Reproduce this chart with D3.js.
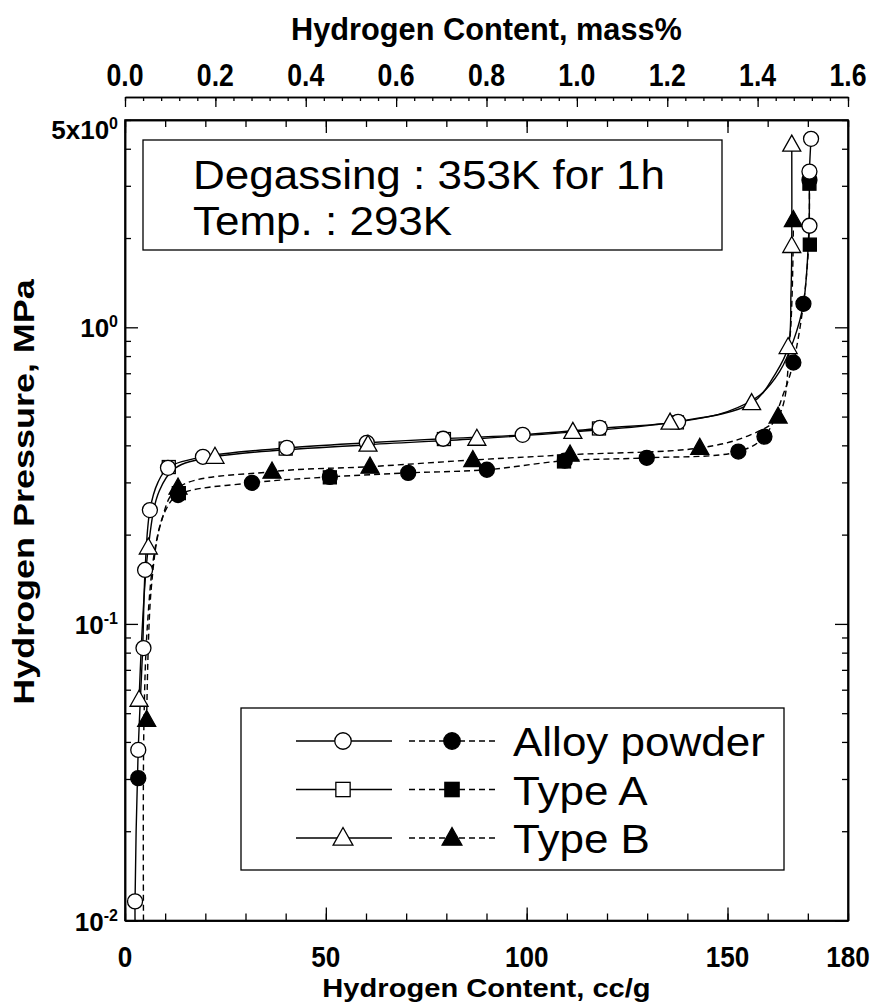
<!DOCTYPE html>
<html>
<head>
<meta charset="utf-8">
<script src="https://cdn.jsdelivr.net/npm/d3@7"></script>
<style>
  html, body { margin: 0; padding: 0; background: #fff; }
  svg { display: block; }
</style>
</head>
<body>
<div id="chart"></div>
<script>
// ---- Data: hydrogen content (cc/g) and pressure (MPa) ----
// Alloy powder, absorption (open circles)
const alloyAbsV = [2.5, 3.3, 4.6, 5.0, 6.2, 10.7, 19.4, 40.3, 60.2, 79.2, 99.0, 118.2, 137.7, 170.4, 170.4, 170.8];
const alloyAbsP = [0.0116, 0.0376, 0.0829, 0.152, 0.242, 0.336, 0.366, 0.392, 0.408, 0.421, 0.434, 0.458, 0.480, 2.20, 3.35, 4.32];
// Alloy powder, desorption (filled circles)
const alloyDesV = [3.3, 13.2, 31.6, 51.0, 70.5, 90.1, 109.5, 129.9, 152.7, 159.2, 166.4, 168.9, 170.4];
const alloyDesP = [0.0302, 0.272, 0.299, 0.313, 0.323, 0.331, 0.355, 0.363, 0.381, 0.428, 0.761, 1.20, 3.14];
// Type A, absorption (open squares)
const typeAAbsV = [10.9, 40.0, 79.4, 118.0, 137.4];
const typeAAbsP = [0.338, 0.390, 0.420, 0.456, 0.478];
// Type A, desorption (filled squares)
const typeADesV = [13.4, 51.0, 109.3, 170.5, 170.4];
const typeADesP = [0.276, 0.312, 0.353, 1.90, 3.05];
// Type B, absorption (open triangles)
const typeBAbsV = [3.5, 5.8, 22.4, 60.5, 87.6, 111.5, 135.7, 156.0, 165.1, 166.0, 166.0];
const typeBAbsP = [0.0555, 0.181, 0.366, 0.402, 0.421, 0.444, 0.477, 0.555, 0.858, 1.88, 4.13];
// Type B, desorption (filled triangles)
const typeBDesV = [5.4, 13.2, 36.6, 61.0, 86.6, 110.8, 143.1, 162.6, 166.4];
const typeBDesP = [0.0475, 0.288, 0.326, 0.339, 0.357, 0.372, 0.392, 0.500, 2.30];

// Smoothed isotherm curves (cc/g, MPa)
const alloyAbsCurve = [[2.5, 0.01], [2.5, 0.0116], [3.3, 0.0376], [4.4, 0.0829], [5.0, 0.152], [6.2, 0.242], [8.2, 0.30], [10.7, 0.336],
  [19.4, 0.366], [40.3, 0.392], [60.2, 0.408], [79.2, 0.421], [99.0, 0.434], [118.2, 0.456], [137.7, 0.480], [150, 0.52],
  [158, 0.59], [163, 0.71], [166.4, 0.90], [168.9, 1.20], [170.3, 2.20], [170.4, 3.35], [170.8, 4.32]];
const typeBAbsCurve = [[3.5, 0.0555], [5.8, 0.181], [8.5, 0.28], [12.5, 0.335], [22.4, 0.366], [60.5, 0.402], [87.6, 0.421],
  [111.5, 0.444], [135.7, 0.477], [156.0, 0.555], [162.0, 0.70], [165.1, 0.858], [165.8, 1.30], [166.0, 1.88], [166.0, 4.13]];
const alloyDesCurve = [[4.6, 0.01], [4.7, 0.045], [5.6, 0.10], [7.5, 0.18], [10.0, 0.24], [13.2, 0.272], [31.6, 0.299],
  [51.0, 0.313], [70.5, 0.323], [90.1, 0.331], [109.5, 0.355], [129.9, 0.363], [152.7, 0.381], [159.2, 0.428],
  [164.0, 0.60], [166.4, 0.761], [168.9, 1.20], [170.2, 1.90], [170.4, 3.14]];
const typeBDesCurve = [[5.4, 0.0475], [6.5, 0.13], [9.0, 0.22], [13.2, 0.288], [36.6, 0.326], [61.0, 0.339], [86.6, 0.357],
  [110.8, 0.372], [143.1, 0.392], [155.0, 0.43], [162.6, 0.500], [165.5, 0.90], [166.4, 2.30]];

// Axis tick labels
const xTickLabels = [0, 50, 100, 150, 180];
const massTickLabels = [0.0, 0.2, 0.4, 0.6, 0.8, 1.0, 1.2, 1.4, 1.6];
const yTickLabels = [
  { value: 0.01, base: "10", exp: "-2" },
  { value: 0.1, base: "10", exp: "-1" },
  { value: 1, base: "10", exp: "0" },
  { value: 5, base: "5x10", exp: "0" }
];
const legendNames = ["Alloy powder", "Type A", "Type B"];
const legendShapes = ["circle", "square", "triangle"];
const noteLines = ["Degassing : 353K for 1h", "Temp. : 293K"];

// ---- Layout ----
const W = 875, H = 1005;
const L = 125, R = 848, T = 120, B = 920.5;
const MASS_Y = 97;

const x = d3.scaleLinear().domain([0, 180]).range([L, R]);
const xm = d3.scaleLinear().domain([0, 1.6]).range([L, R]);
const y = d3.scaleLog().domain([0.01, 5]).range([B, T]);

const svg = d3.select("#chart").append("svg")
  .attr("width", W).attr("height", H)
  .attr("viewBox", `0 0 ${W} ${H}`);

const sans = "'Liberation Sans', Arial, sans-serif";

function styleAxis(g) {
  g.selectAll("path.domain").attr("stroke", "#000").attr("stroke-width", 1.5);
  g.selectAll(".tick line").attr("stroke", "#000").attr("stroke-width", 1.3);
  g.selectAll(".tick text").remove();
}

// Frame ticks (inward), every 10 cc/g, longer at multiples of 50
const minorX = d3.range(0, 181, 10);
const majorX = [0, 50, 100, 150];
svg.append("g").attr("transform", `translate(0,${B})`)
  .call(d3.axisBottom(x).tickValues(minorX).tickSize(-7).tickSizeOuter(0)).call(styleAxis);
svg.append("g").attr("transform", `translate(0,${B})`)
  .call(d3.axisBottom(x).tickValues(majorX).tickSize(-13).tickSizeOuter(0)).call(styleAxis);
svg.append("g").attr("transform", `translate(0,${T})`)
  .call(d3.axisTop(x).tickValues(minorX).tickSize(-7).tickSizeOuter(0)).call(styleAxis);
svg.append("g").attr("transform", `translate(0,${T})`)
  .call(d3.axisTop(x).tickValues(majorX).tickSize(-13).tickSizeOuter(0)).call(styleAxis);

// Log ticks on left and right
const decades = [0.01, 0.1, 1];
const minorY = [];
decades.forEach(d => { for (let k = 2; k <= 9; k++) { const v = +(d * k).toPrecision(3); if (v <= 5) minorY.push(v); } });
svg.append("g").attr("transform", `translate(${L},0)`)
  .call(d3.axisLeft(y).tickValues(minorY).tickSize(-6).tickSizeOuter(0)).call(styleAxis);
svg.append("g").attr("transform", `translate(${L},0)`)
  .call(d3.axisLeft(y).tickValues(decades).tickSize(-13).tickSizeOuter(0)).call(styleAxis);
svg.append("g").attr("transform", `translate(${R},0)`)
  .call(d3.axisRight(y).tickValues(minorY).tickSize(-6).tickSizeOuter(0)).call(styleAxis);
svg.append("g").attr("transform", `translate(${R},0)`)
  .call(d3.axisRight(y).tickValues(decades).tickSize(-13).tickSizeOuter(0)).call(styleAxis);

// Frame
svg.append("rect").attr("x", L).attr("y", T).attr("width", R - L).attr("height", B - T)
  .attr("fill", "none").attr("stroke", "#000").attr("stroke-width", 1.6);

// Upper mass% axis
const massMinor = d3.range(0, 41).map(i => +(i * 0.04).toFixed(2));
svg.append("g").attr("transform", `translate(0,${MASS_Y})`)
  .call(d3.axisBottom(xm).tickValues(massMinor).tickSize(4).tickSizeOuter(0)).call(styleAxis);
svg.append("g").attr("transform", `translate(0,${MASS_Y})`)
  .call(d3.axisBottom(xm).tickValues(massTickLabels).tickSize(10).tickSizeOuter(0)).call(styleAxis);

// Tick labels (bold, condensed)
function boldText(sel, size) {
  sel.attr("font-family", sans).attr("font-weight", "bold")
    .attr("font-size", size).attr("text-anchor", "middle").attr("fill", "#000");
}
svg.append("g").selectAll("text").data(xTickLabels).join("text")
  .attr("transform", d => `translate(${x(d)},967) scale(0.9,1)`)
  .text(d => d).call(boldText, 29);
svg.append("g").selectAll("text").data(massTickLabels).join("text")
  .attr("transform", d => `translate(${xm(d)},86) scale(0.86,1)`)
  .text(d3.format(".1f")).call(boldText, 31);

// Y tick labels with superscripts
const yLab = svg.append("g").selectAll("text").data(yTickLabels).join("text")
  .attr("x", L - 7).attr("y", d => Math.max(y(d.value) + 10, T + 19))
  .attr("text-anchor", "end").attr("font-family", sans).attr("font-weight", "bold")
  .attr("font-size", 26).attr("fill", "#000");
yLab.append("tspan").text(d => d.base);
yLab.append("tspan").attr("dy", -10).attr("font-size", 16).text(d => d.exp);

// Axis titles
svg.append("text").attr("transform", `translate(${(L + R) / 2},40) scale(0.96,1)`)
  .text("Hydrogen Content, mass%").call(boldText, 32);
svg.append("text").attr("transform", `translate(${(L + R) / 2},997) scale(1.12,1)`)
  .text("Hydrogen Content, cc/g").call(boldText, 26);
svg.append("text").attr("transform", `translate(34,492) rotate(-90) scale(1.24,1)`)
  .text("Hydrogen Pressure, MPa").call(boldText, 29);

// ---- Curves ----
const line = d3.line()
  .x(d => x(d[0])).y(d => y(d[1]))
  .curve(d3.curveCatmullRom.alpha(0.5));
const plot = svg.append("g");
const curves = [
  { data: alloyDesCurve, dash: "6,4" },
  { data: typeBDesCurve, dash: "6,4" },
  { data: alloyAbsCurve, dash: null },
  { data: typeBAbsCurve, dash: null }
];
plot.selectAll("path.curve").data(curves).join("path")
  .attr("class", "curve")
  .attr("d", d => line(d.data))
  .attr("fill", "none").attr("stroke", "#000").attr("stroke-width", 1.4)
  .attr("stroke-dasharray", d => d.dash);

// ---- Markers ----
function marker(sel, shape, filled, k) {
  const s = k || 1;
  sel.each(function (d) {
    const g = d3.select(this);
    const cx = d.cx, cy = d.cy;
    if (shape === "circle") {
      g.append("circle").attr("cx", cx).attr("cy", cy).attr("r", 7.5 * s);
    } else if (shape === "square") {
      g.append("rect").attr("x", cx - 6.5 * s).attr("y", cy - 6.5 * s).attr("width", 13 * s).attr("height", 13 * s);
    } else {
      g.append("path").attr("d", `M${cx},${cy - 9.5 * s}L${cx + 9 * s},${cy + 6.5 * s}L${cx - 9 * s},${cy + 6.5 * s}Z`);
    }
    g.selectAll("*").attr("fill", filled ? "#000" : "#fff")
      .attr("stroke", "#000").attr("stroke-width", 1.3);
  });
}
function points(v, p) { return v.map((d, i) => ({ cx: x(d), cy: y(p[i]) })); }

const markerSets = [
  { v: typeAAbsV, p: typeAAbsP, shape: "square", filled: false },
  { v: typeADesV, p: typeADesP, shape: "square", filled: true },
  { v: alloyDesV, p: alloyDesP, shape: "circle", filled: true },
  { v: typeBDesV, p: typeBDesP, shape: "triangle", filled: true },
  { v: alloyAbsV, p: alloyAbsP, shape: "circle", filled: false },
  { v: typeBAbsV, p: typeBAbsP, shape: "triangle", filled: false }
];
markerSets.forEach(s => {
  plot.append("g").selectAll("g").data(points(s.v, s.p)).join("g")
    .call(marker, s.shape, s.filled);
});

// ---- Condition note ----
svg.append("rect").attr("x", 143).attr("y", 140).attr("width", 579).attr("height", 110)
  .attr("fill", "#fff").attr("stroke", "#000").attr("stroke-width", 1.3);
svg.append("g").selectAll("text").data(noteLines).join("text")
  .attr("transform", (d, i) => `translate(193,${189 + i * 46}) scale(1.1,1)`)
  .attr("font-family", sans).attr("font-size", 40)
  .attr("fill", "#000").text(d => d);

// ---- Legend ----
const lg = svg.append("g");
lg.append("rect").attr("x", 241).attr("y", 708).attr("width", 543).attr("height", 162)
  .attr("fill", "#fff").attr("stroke", "#000").attr("stroke-width", 1.3);
const rows = lg.selectAll("g.row").data(legendNames).join("g").attr("class", "row")
  .attr("transform", (d, i) => `translate(0,${741 + i * 48.5})`);
rows.append("line").attr("x1", 296).attr("x2", 392).attr("y1", 0).attr("y2", 0)
  .attr("stroke", "#000").attr("stroke-width", 1.4);
rows.append("line").attr("x1", 409).attr("x2", 498).attr("y1", 0).attr("y2", 0)
  .attr("stroke", "#000").attr("stroke-width", 1.4).attr("stroke-dasharray", "6,4");
rows.each(function (d, i) {
  const r = d3.select(this);
  r.append("g").datum({ cx: 343, cy: 0 }).call(marker, legendShapes[i], false, 1.1);
  r.append("g").datum({ cx: 452, cy: 0 }).call(marker, legendShapes[i], true, 1.1);
});
rows.append("text").attr("transform", "translate(513,15) scale(1.1,1)")
  .attr("font-family", sans).attr("font-size", 40)
  .attr("fill", "#000").text(d => d);
</script>
</body>
</html>
